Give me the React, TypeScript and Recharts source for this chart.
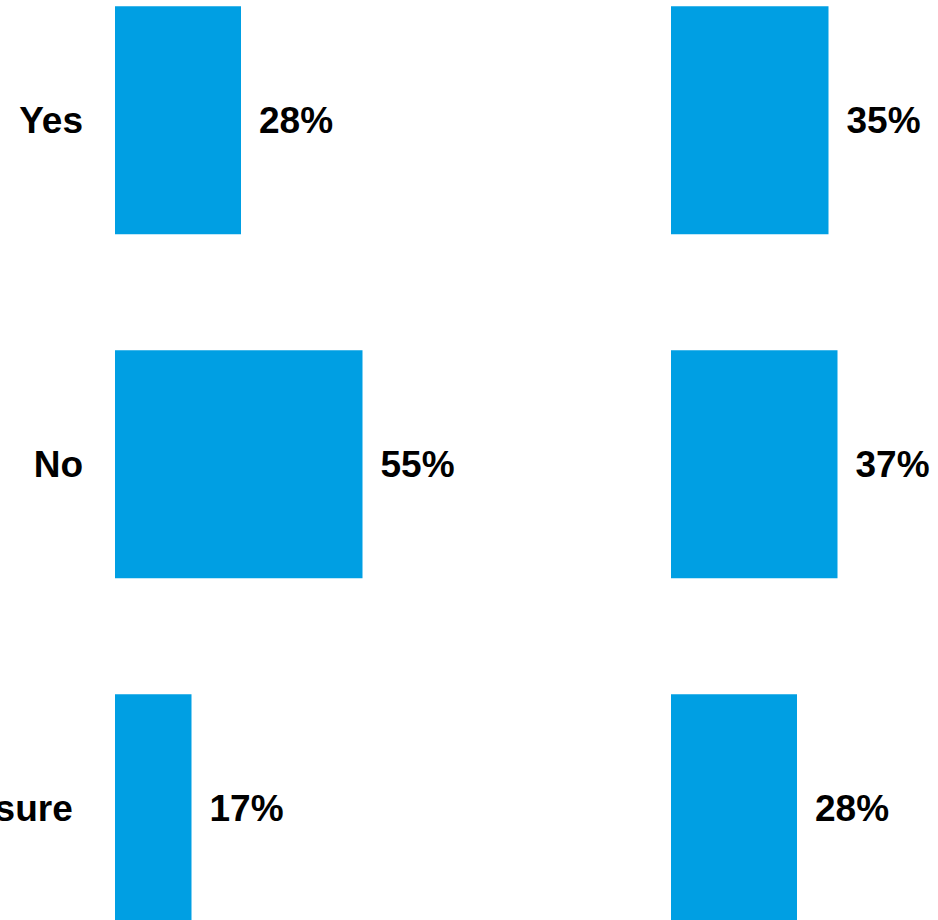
import React from "react";
import { BarChart, Bar, XAxis, YAxis, LabelList } from "recharts";

// answer categories and the two groups' shares (%)
const categories = ["Yes", "No", "Not sure "];
const leftValues = [28, 55, 17];
const rightValues = [35, 37, 28];

const BLUE = "#009FE3";
const FONT = "'Liberation Sans', Arial, Helvetica, sans-serif";

const leftData = categories.map((name, i) => ({ name, value: leftValues[i] }));
const rightData = categories.map((name, i) => ({ name, value: rightValues[i] }));

function CategoryTick(props: any) {
  const { x, y, payload } = props;
  return (
    <text
      x={x - 24}
      y={y}
      dy="0.36em"
      textAnchor="end"
      fill="#000"
      fontSize={37}
      fontWeight="bold"
      fontFamily={FONT}
      style={{ whiteSpace: "pre" }}
    >
      {payload.value}
    </text>
  );
}

const labelProps = {
  position: "right" as const,
  offset: 18,
  fill: "#000",
  fontSize: 37,
  fontWeight: "bold",
  fontFamily: FONT,
  formatter: (v: any) => `${v}%`,
};

export default function App() {
  return (
    <div
      style={{
        position: "absolute",
        top: 0,
        left: 0,
        width: 938,
        height: 920,
        overflow: "hidden",
        background: "#fff",
        fontFamily: FONT,
      }}
    >
      <div style={{ position: "absolute", left: 0, top: -52 }}>
        <BarChart
          layout="vertical"
          width={565}
          height={1032}
          data={leftData}
          margin={{ top: 0, right: 0, bottom: 0, left: 0 }}
          barCategoryGap="16.9%"
        >
          <XAxis type="number" domain={[0, 100]} hide />
          <YAxis
            type="category"
            dataKey="name"
            width={115}
            axisLine={false}
            tickLine={false}
            tick={<CategoryTick />}
          />
          <Bar dataKey="value" fill={BLUE} isAnimationActive={false}>
            <LabelList dataKey="value" {...labelProps} />
          </Bar>
        </BarChart>
      </div>
      <div style={{ position: "absolute", left: 671, top: -52 }}>
        <BarChart
          layout="vertical"
          width={450}
          height={1032}
          data={rightData}
          margin={{ top: 0, right: 0, bottom: 0, left: 0 }}
          barCategoryGap="16.9%"
        >
          <XAxis type="number" domain={[0, 100]} hide />
          <YAxis type="category" dataKey="name" hide />
          <Bar dataKey="value" fill={BLUE} isAnimationActive={false}>
            <LabelList dataKey="value" {...labelProps} />
          </Bar>
        </BarChart>
      </div>
    </div>
  );
}
